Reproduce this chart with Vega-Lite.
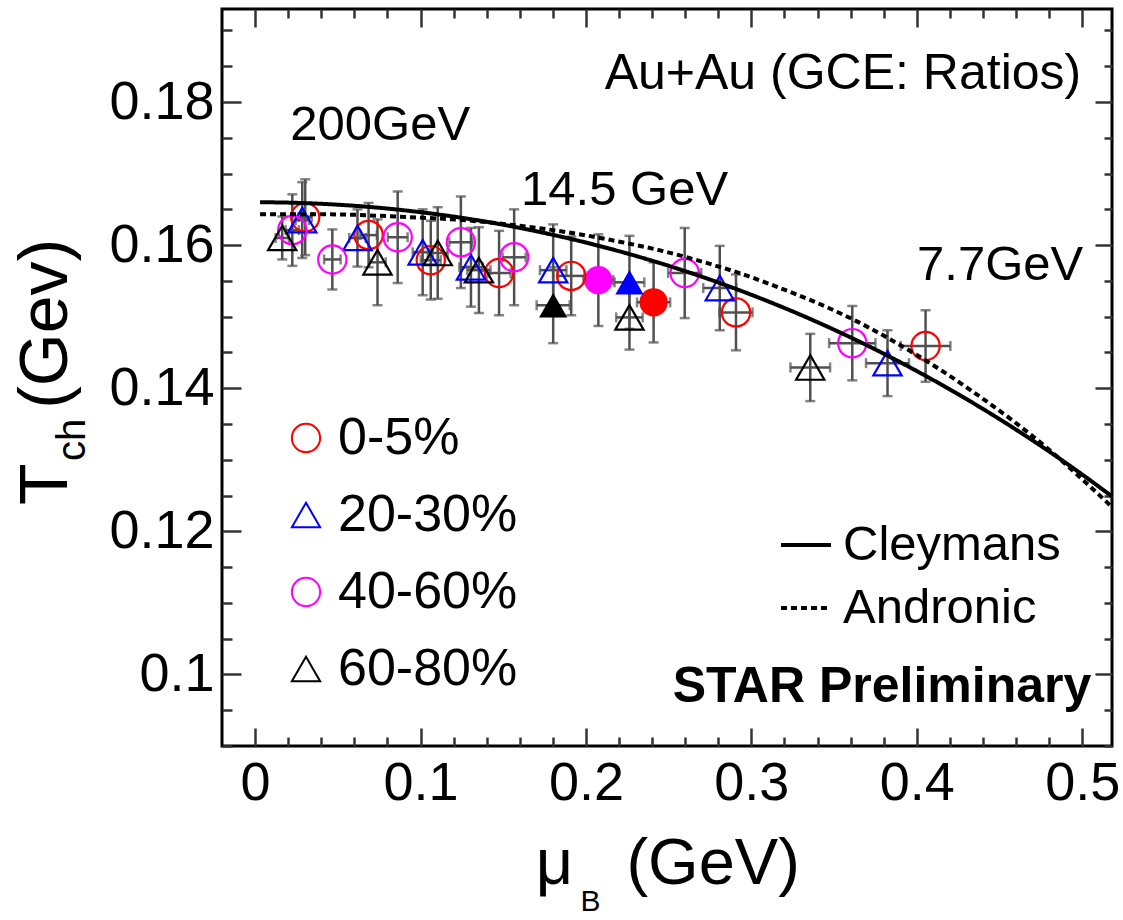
{
  "$schema": "https://vega.github.io/schema/vega-lite/v6.json",
  "width": 890,
  "height": 737,
  "autosize": {"type": "none"},
  "padding": {"left": 222, "top": 9, "right": 11, "bottom": 174},
  "background": "white",
  "config": {
    "view": {"stroke": "black", "strokeWidth": 3},
    "font": "Liberation Sans",
    "text": {"font": "Liberation Sans", "color": "black"},
    "axis": {"domain": false, "grid": false, "tickColor": "#333333", "tickWidth": 2.5, "labelFont": "Liberation Sans", "labelColor": "black", "labelOverlap": false, "labelFlush": false, "labelBound": false}
  },
  "datasets": {
    "pts": [
      {"cent": "0-5%", "sNN": 200, "mu": 0.0303, "T": 0.1639, "dT": 0.0053, "dmu": 0.004},
      {"cent": "0-5%", "sNN": 62.4, "mu": 0.0686, "T": 0.1614, "dT": 0.0045, "dmu": 0.005},
      {"cent": "0-5%", "sNN": 39, "mu": 0.1062, "T": 0.1579, "dT": 0.0055, "dmu": 0.006},
      {"cent": "0-5%", "sNN": 27, "mu": 0.1475, "T": 0.1561, "dT": 0.0059, "dmu": 0.007},
      {"cent": "0-5%", "sNN": 19.6, "mu": 0.1911, "T": 0.1557, "dT": 0.0055, "dmu": 0.008},
      {"cent": "0-5%", "sNN": 14.5, "mu": 0.2409, "T": 0.1520, "dT": 0.0056, "dmu": 0.010},
      {"cent": "0-5%", "sNN": 11.5, "mu": 0.2907, "T": 0.1506, "dT": 0.0053, "dmu": 0.010},
      {"cent": "0-5%", "sNN": 7.7, "mu": 0.4053, "T": 0.1459, "dT": 0.0050, "dmu": 0.015},
      {"cent": "20-30%", "sNN": 200, "mu": 0.0285, "T": 0.1635, "dT": 0.0053, "dmu": 0.004},
      {"cent": "20-30%", "sNN": 62.4, "mu": 0.0619, "T": 0.1610, "dT": 0.0040, "dmu": 0.005},
      {"cent": "20-30%", "sNN": 39, "mu": 0.1013, "T": 0.1590, "dT": 0.0060, "dmu": 0.006},
      {"cent": "20-30%", "sNN": 27, "mu": 0.1305, "T": 0.1569, "dT": 0.0055, "dmu": 0.007},
      {"cent": "20-30%", "sNN": 19.6, "mu": 0.1802, "T": 0.1565, "dT": 0.0064, "dmu": 0.008},
      {"cent": "20-30%", "sNN": 14.5, "mu": 0.2263, "T": 0.1548, "dT": 0.0065, "dmu": 0.009},
      {"cent": "20-30%", "sNN": 11.5, "mu": 0.2809, "T": 0.1540, "dT": 0.0059, "dmu": 0.010},
      {"cent": "20-30%", "sNN": 7.7, "mu": 0.3823, "T": 0.1435, "dT": 0.0046, "dmu": 0.013},
      {"cent": "40-60%", "sNN": 200, "mu": 0.0225, "T": 0.1621, "dT": 0.0050, "dmu": 0.004},
      {"cent": "40-60%", "sNN": 62.4, "mu": 0.0467, "T": 0.1580, "dT": 0.0042, "dmu": 0.005},
      {"cent": "40-60%", "sNN": 39, "mu": 0.0862, "T": 0.1611, "dT": 0.0064, "dmu": 0.006},
      {"cent": "40-60%", "sNN": 27, "mu": 0.1244, "T": 0.1604, "dT": 0.0064, "dmu": 0.007},
      {"cent": "40-60%", "sNN": 19.6, "mu": 0.1566, "T": 0.1583, "dT": 0.0067, "dmu": 0.007},
      {"cent": "40-60%", "sNN": 14.5, "mu": 0.2075, "T": 0.1551, "dT": 0.0064, "dmu": 0.009},
      {"cent": "40-60%", "sNN": 11.5, "mu": 0.2597, "T": 0.1561, "dT": 0.0063, "dmu": 0.010},
      {"cent": "40-60%", "sNN": 7.7, "mu": 0.3610, "T": 0.1463, "dT": 0.0052, "dmu": 0.014},
      {"cent": "60-80%", "sNN": 200, "mu": 0.0164, "T": 0.1610, "dT": 0.0030, "dmu": 0.004},
      {"cent": "60-80%", "sNN": 62.4, "mu": 0.0740, "T": 0.1576, "dT": 0.0060, "dmu": 0.005},
      {"cent": "60-80%", "sNN": 39, "mu": 0.1104, "T": 0.1589, "dT": 0.0064, "dmu": 0.006},
      {"cent": "60-80%", "sNN": 27, "mu": 0.1353, "T": 0.1565, "dT": 0.0060, "dmu": 0.007},
      {"cent": "60-80%", "sNN": 14.5, "mu": 0.1802, "T": 0.1516, "dT": 0.0053, "dmu": 0.010},
      {"cent": "60-80%", "sNN": 11.5, "mu": 0.2263, "T": 0.1499, "dT": 0.0045, "dmu": 0.008},
      {"cent": "60-80%", "sNN": 7.7, "mu": 0.3356, "T": 0.1429, "dT": 0.0047, "dmu": 0.012}
    ],
    "curves": [
      {"model": "Cleymans", "mu": 0.003, "T": 0.16600},
      {"model": "Cleymans", "mu": 0.025, "T": 0.16591},
      {"model": "Cleymans", "mu": 0.05, "T": 0.16565},
      {"model": "Cleymans", "mu": 0.075, "T": 0.16522},
      {"model": "Cleymans", "mu": 0.1, "T": 0.16460},
      {"model": "Cleymans", "mu": 0.125, "T": 0.16382},
      {"model": "Cleymans", "mu": 0.15, "T": 0.16285},
      {"model": "Cleymans", "mu": 0.175, "T": 0.16169},
      {"model": "Cleymans", "mu": 0.2, "T": 0.16036},
      {"model": "Cleymans", "mu": 0.225, "T": 0.15883},
      {"model": "Cleymans", "mu": 0.25, "T": 0.15711},
      {"model": "Cleymans", "mu": 0.275, "T": 0.15519},
      {"model": "Cleymans", "mu": 0.3, "T": 0.15306},
      {"model": "Cleymans", "mu": 0.325, "T": 0.15073},
      {"model": "Cleymans", "mu": 0.35, "T": 0.14818},
      {"model": "Cleymans", "mu": 0.375, "T": 0.14541},
      {"model": "Cleymans", "mu": 0.4, "T": 0.14240},
      {"model": "Cleymans", "mu": 0.425, "T": 0.13916},
      {"model": "Cleymans", "mu": 0.45, "T": 0.13568},
      {"model": "Cleymans", "mu": 0.475, "T": 0.13194},
      {"model": "Cleymans", "mu": 0.5, "T": 0.12794},
      {"model": "Cleymans", "mu": 0.518, "T": 0.12488},
      {"model": "Andronic", "mu": 0.003, "T": 0.1643},
      {"model": "Andronic", "mu": 0.044, "T": 0.1643},
      {"model": "Andronic", "mu": 0.085, "T": 0.1640},
      {"model": "Andronic", "mu": 0.136, "T": 0.1633},
      {"model": "Andronic", "mu": 0.160, "T": 0.1627},
      {"model": "Andronic", "mu": 0.194, "T": 0.1616},
      {"model": "Andronic", "mu": 0.222, "T": 0.1604},
      {"model": "Andronic", "mu": 0.246, "T": 0.1592},
      {"model": "Andronic", "mu": 0.276, "T": 0.1573},
      {"model": "Andronic", "mu": 0.294, "T": 0.1560},
      {"model": "Andronic", "mu": 0.314, "T": 0.1543},
      {"model": "Andronic", "mu": 0.338, "T": 0.1521},
      {"model": "Andronic", "mu": 0.365, "T": 0.1492},
      {"model": "Andronic", "mu": 0.396, "T": 0.1452},
      {"model": "Andronic", "mu": 0.434, "T": 0.1395},
      {"model": "Andronic", "mu": 0.480, "T": 0.1314},
      {"model": "Andronic", "mu": 0.506, "T": 0.1260},
      {"model": "Andronic", "mu": 0.518, "T": 0.1234}
    ]
  },
  "layer": [
    {
      "data": {"name": "pts"},
      "mark": {"type": "errorbar", "ticks": true, "size": 10, "thickness": 2.5, "color": "#505050"},
      "encoding": {
        "x": {"field": "mu", "type": "quantitative", "axis": null, "scale": {"domain": [-0.02, 0.518], "nice": false, "zero": false}},
        "y": {"field": "T", "type": "quantitative", "axis": null, "scale": {"domain": [0.09, 0.193], "nice": false, "zero": false}},
        "yError": {"field": "dT"}
      }
    },
    {
      "data": {"name": "pts"},
      "mark": {"type": "errorbar", "ticks": true, "size": 10, "thickness": 2.5, "color": "#505050"},
      "encoding": {
        "x": {"field": "mu", "type": "quantitative", "axis": null},
        "xError": {"field": "dmu"},
        "y": {"field": "T", "type": "quantitative", "axis": null}
      }
    },
    {
      "data": {"name": "pts"},
      "transform": [{"filter": "datum.sNN == 14.5 && (datum.cent == '0-5%' || datum.cent == '40-60%')"}],
      "mark": {"type": "point", "shape": "circle", "filled": true, "size": 800, "opacity": 1},
      "encoding": {
        "x": {
          "field": "mu", "type": "quantitative",
          "axis": {
            "orient": "top", "title": null, "labels": false,
            "values": [0, 0.02, 0.04, 0.06, 0.08, 0.1, 0.12, 0.14, 0.16, 0.18, 0.2, 0.22, 0.24, 0.26, 0.28, 0.3, 0.32, 0.34, 0.36, 0.38, 0.4, 0.42, 0.44, 0.46, 0.48, 0.5],
            "tickSize": {"condition": {"test": "abs(datum.value*10 - round(datum.value*10)) < 1e-6", "value": -18}, "value": -9}
          }
        },
        "y": {
          "field": "T", "type": "quantitative",
          "axis": {
            "orient": "right", "title": null, "labels": false,
            "values": [0.09, 0.095, 0.1, 0.105, 0.11, 0.115, 0.12, 0.125, 0.13, 0.135, 0.14, 0.145, 0.15, 0.155, 0.16, 0.165, 0.17, 0.175, 0.18, 0.185, 0.19],
            "tickSize": {"condition": {"test": "abs(datum.value*50 - round(datum.value*50)) < 1e-6", "value": -17}, "value": -8}
          }
        },
        "fill": {
          "field": "cent", "type": "nominal", "legend": null,
          "scale": {"domain": ["60-80%", "40-60%", "20-30%", "0-5%"], "range": ["#000000", "#ff00ff", "#0000ff", "#ff0000"]}
        }
      }
    },
    {
      "data": {"name": "pts"},
      "transform": [{"filter": "datum.sNN == 14.5 && (datum.cent == '20-30%' || datum.cent == '60-80%')"}],
      "mark": {"type": "point", "shape": "triangle-up", "filled": true, "size": 800, "opacity": 1},
      "encoding": {
        "x": {"field": "mu", "type": "quantitative", "axis": null},
        "y": {"field": "T", "type": "quantitative", "axis": null},
        "fill": {"field": "cent", "type": "nominal", "legend": null}
      }
    },
    {
      "data": {"name": "pts"},
      "transform": [{"filter": "datum.sNN != 14.5"}],
      "mark": {"type": "point", "filled": false, "size": 800, "strokeWidth": 2.2, "opacity": 1},
      "encoding": {
        "x": {
          "field": "mu", "type": "quantitative",
          "scale": {"domain": [-0.02, 0.518], "nice": false, "zero": false},
          "axis": {
            "orient": "bottom", "title": null,
            "values": [0, 0.02, 0.04, 0.06, 0.08, 0.1, 0.12, 0.14, 0.16, 0.18, 0.2, 0.22, 0.24, 0.26, 0.28, 0.3, 0.32, 0.34, 0.36, 0.38, 0.4, 0.42, 0.44, 0.46, 0.48, 0.5],
            "labelExpr": "abs(datum.value*10 - round(datum.value*10)) < 1e-6 ? (datum.value == 0 ? '0' : format(datum.value, '.1f')) : ''",
            "labelFontSize": 54, "labelPadding": 28,
            "tickSize": {"condition": {"test": "abs(datum.value*10 - round(datum.value*10)) < 1e-6", "value": -18}, "value": -9}
          }
        },
        "y": {
          "field": "T", "type": "quantitative",
          "scale": {"domain": [0.09, 0.193], "nice": false, "zero": false},
          "axis": {
            "orient": "left", "title": null,
            "values": [0.09, 0.095, 0.1, 0.105, 0.11, 0.115, 0.12, 0.125, 0.13, 0.135, 0.14, 0.145, 0.15, 0.155, 0.16, 0.165, 0.17, 0.175, 0.18, 0.185, 0.19],
            "labelExpr": "abs(datum.value*50 - round(datum.value*50)) < 1e-6 ? format(datum.value, '.2~f') : ''",
            "labelFontSize": 54, "labelPadding": 27,
            "tickSize": {"condition": {"test": "abs(datum.value*50 - round(datum.value*50)) < 1e-6", "value": -19}, "value": -10}
          }
        },
        "color": {
          "field": "cent", "type": "nominal",
          "scale": {"domain": ["0-5%", "20-30%", "40-60%", "60-80%"], "range": ["#ff0000", "#0000ff", "#ff00ff", "#000000"]},
          "legend": {"orient": "none", "legendX": 58, "legendY": 403, "title": null, "padding": 0, "labelFontSize": 52, "labelFont": "Liberation Sans", "labelColor": "black", "labelLimit": 400, "symbolSize": 800, "symbolStrokeWidth": 2, "rowPadding": 25, "labelOffset": 6}
        },
        "shape": {
          "field": "cent", "type": "nominal",
          "scale": {"domain": ["0-5%", "20-30%", "40-60%", "60-80%"], "range": ["circle", "triangle-up", "circle", "triangle-up"]},
          "legend": {"orient": "none", "legendX": 58, "legendY": 403, "title": null, "padding": 0, "labelFontSize": 52, "labelFont": "Liberation Sans", "labelColor": "black", "labelLimit": 400, "symbolSize": 800, "symbolStrokeWidth": 2, "rowPadding": 25, "labelOffset": 6}
        }
      }
    },
    {
      "data": {"name": "curves"},
      "mark": {"type": "line", "color": "black", "strokeWidth": 4, "clip": true, "interpolate": "monotone"},
      "encoding": {
        "x": {"field": "mu", "type": "quantitative", "axis": null},
        "y": {"field": "T", "type": "quantitative", "axis": null},
        "strokeDash": {
          "field": "model", "type": "nominal",
          "scale": {"domain": ["Cleymans", "Andronic"], "range": [[1, 0], [6, 4]]},
          "legend": {"orient": "none", "legendX": 557, "legendY": 509, "title": null, "padding": 0, "labelFontSize": 49, "labelFont": "Liberation Sans", "labelColor": "black", "labelLimit": 400, "symbolType": "stroke", "symbolSize": 2500, "symbolStrokeWidth": 4, "symbolStrokeColor": "black", "rowPadding": 11, "labelOffset": 10}
        }
      }
    },
    {
      "data": {"values": [{"label": "200GeV", "mu": 0.0213, "T": 0.1747}, {"label": "14.5 GeV", "mu": 0.1608, "T": 0.1656}]},
      "mark": {"type": "text", "align": "left", "baseline": "alphabetic", "fontSize": 49},
      "encoding": {
        "x": {"field": "mu", "type": "quantitative", "axis": null},
        "y": {"field": "T", "type": "quantitative", "axis": null},
        "text": {"field": "label"}
      }
    },
    {
      "data": {"values": [{"label": "7.7GeV", "mu": 0.5006, "T": 0.1551}]},
      "mark": {"type": "text", "align": "right", "baseline": "alphabetic", "fontSize": 49},
      "encoding": {
        "x": {"field": "mu", "type": "quantitative", "axis": null},
        "y": {"field": "T", "type": "quantitative", "axis": null},
        "text": {"field": "label"}
      }
    },
    {
      "data": {"values": [{"label": "Au+Au (GCE: Ratios)", "mu": 0.4994, "T": 0.1818}]},
      "mark": {"type": "text", "align": "right", "baseline": "alphabetic", "fontSize": 50},
      "encoding": {
        "x": {"field": "mu", "type": "quantitative", "axis": null},
        "y": {"field": "T", "type": "quantitative", "axis": null},
        "text": {"field": "label"}
      }
    },
    {
      "data": {"values": [{"label": "STAR Preliminary", "mu": 0.5055, "T": 0.0961}]},
      "mark": {"type": "text", "align": "right", "baseline": "alphabetic", "fontSize": 50, "fontWeight": "bold"},
      "encoding": {
        "x": {"field": "mu", "type": "quantitative", "axis": null},
        "y": {"field": "T", "type": "quantitative", "axis": null},
        "text": {"field": "label"}
      }
    },
    {
      "data": {"values": [{"label": "μ", "mu": 0.1809, "T": 0.0707}]},
      "mark": {"type": "text", "align": "center", "baseline": "alphabetic", "fontSize": 65},
      "encoding": {
        "x": {"field": "mu", "type": "quantitative", "axis": null},
        "y": {"field": "T", "type": "quantitative", "axis": null},
        "text": {"field": "label"}
      }
    },
    {
      "data": {"values": [{"label": "(GeV)", "mu": 0.2245, "T": 0.0707}]},
      "mark": {"type": "text", "align": "left", "baseline": "alphabetic", "fontSize": 65},
      "encoding": {
        "x": {"field": "mu", "type": "quantitative", "axis": null},
        "y": {"field": "T", "type": "quantitative", "axis": null},
        "text": {"field": "label"}
      }
    },
    {
      "data": {"values": [{"label": "B", "mu": 0.2027, "T": 0.0669}]},
      "mark": {"type": "text", "align": "center", "baseline": "alphabetic", "fontSize": 30},
      "encoding": {
        "x": {"field": "mu", "type": "quantitative", "axis": null},
        "y": {"field": "T", "type": "quantitative", "axis": null},
        "text": {"field": "label"}
      }
    },
    {
      "data": {"values": [{"label": "T", "mu": -0.1134, "T": 0.1266}, {"label": "(Gev)", "mu": -0.1134, "T": 0.1490}]},
      "mark": {"type": "text", "align": "center", "baseline": "alphabetic", "fontSize": 68, "angle": 270},
      "encoding": {
        "x": {"field": "mu", "type": "quantitative", "axis": null},
        "y": {"field": "T", "type": "quantitative", "axis": null},
        "text": {"field": "label"}
      }
    },
    {
      "data": {"values": [{"label": "ch", "mu": -0.1031, "T": 0.1328}]},
      "mark": {"type": "text", "align": "center", "baseline": "alphabetic", "fontSize": 40, "angle": 270},
      "encoding": {
        "x": {"field": "mu", "type": "quantitative", "axis": null},
        "y": {"field": "T", "type": "quantitative", "axis": null},
        "text": {"field": "label"}
      }
    }
  ],
  "resolve": {"axis": {"x": "independent", "y": "independent"}}
}
